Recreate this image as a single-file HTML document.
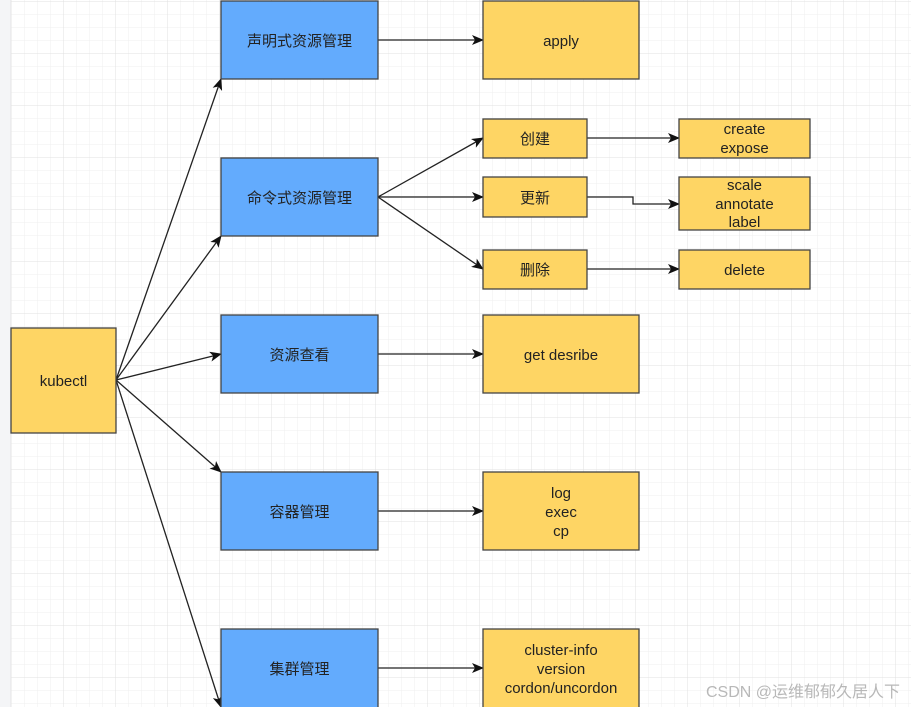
<!DOCTYPE html>
<html><head><meta charset="utf-8"><style>
html,body{margin:0;padding:0;background:#fff;}
svg{display:block;}
text{font-family:"Liberation Sans","Noto Sans CJK SC",sans-serif;font-size:15px;fill:#222;text-anchor:middle;}
</style></head><body>
<svg width="911" height="707" viewBox="0 0 911 707" xmlns="http://www.w3.org/2000/svg">
<defs>
<pattern id="minor" x="11" y="1" width="13" height="13" patternUnits="userSpaceOnUse">
<path d="M0 0H13M0 0V13" stroke="#efefef" stroke-width="1" fill="none"/>
</pattern>
<pattern id="major" x="11" y="1" width="52" height="52" patternUnits="userSpaceOnUse">
<path d="M0 0H52M0 0V52" stroke="#e0e0e0" stroke-width="1" fill="none"/>
</pattern>
<marker id="ar" markerWidth="12" markerHeight="10" refX="11" refY="5" orient="auto" markerUnits="userSpaceOnUse">
<path d="M0 0 L12 5 L0 10 L3 5 Z" fill="#111"/>
</marker>
</defs>
<rect width="911" height="707" fill="#fff"/>
<rect x="11" width="900" height="707" fill="url(#minor)"/>
<rect x="11" width="900" height="707" fill="url(#major)"/>
<rect x="0" y="0" width="11" height="707" fill="#f4f5f7"/>
<line x1="11" y1="0" x2="11" y2="707" stroke="#e4e4e4"/>

<g stroke="#222" stroke-width="1.3" fill="none" marker-end="url(#ar)">
<line x1="116" y1="380" x2="221" y2="79"/>
<line x1="116" y1="380" x2="221" y2="236"/>
<line x1="116" y1="380" x2="221" y2="354"/>
<line x1="116" y1="380" x2="221" y2="472"/>
<line x1="116" y1="380" x2="221" y2="707"/>
<line x1="378" y1="40" x2="483" y2="40"/>
<line x1="378" y1="197" x2="483" y2="138"/>
<line x1="378" y1="197" x2="483" y2="197"/>
<line x1="378" y1="197" x2="483" y2="269"/>
<line x1="378" y1="354" x2="483" y2="354"/>
<line x1="378" y1="511" x2="483" y2="511"/>
<line x1="378" y1="668" x2="483" y2="668"/>
<line x1="587" y1="138" x2="679" y2="138"/>
<polyline points="587,197 633,197 633,204 679,204"/>
<line x1="587" y1="269" x2="679" y2="269"/>
</g>

<g stroke="#444" stroke-width="1.3">
<rect x="11" y="328" width="105" height="105" fill="#fed564"/>
<rect x="221" y="1" width="157" height="78" fill="#63abfd"/>
<rect x="221" y="158" width="157" height="78" fill="#63abfd"/>
<rect x="221" y="315" width="157" height="78" fill="#63abfd"/>
<rect x="221" y="472" width="157" height="78" fill="#63abfd"/>
<rect x="221" y="629" width="157" height="80" fill="#63abfd"/>
<rect x="483" y="1" width="156" height="78" fill="#fed564"/>
<rect x="483" y="119" width="104" height="39" fill="#fed564"/>
<rect x="483" y="177" width="104" height="40" fill="#fed564"/>
<rect x="483" y="250" width="104" height="39" fill="#fed564"/>
<rect x="679" y="119" width="131" height="39" fill="#fed564"/>
<rect x="679" y="177" width="131" height="53" fill="#fed564"/>
<rect x="679" y="250" width="131" height="39" fill="#fed564"/>
<rect x="483" y="315" width="156" height="78" fill="#fed564"/>
<rect x="483" y="472" width="156" height="78" fill="#fed564"/>
<rect x="483" y="629" width="156" height="80" fill="#fed564"/>
</g>

<text x="63.5" y="386">kubectl</text>
<text x="299.5" y="46">声明式资源管理</text>
<text x="299.5" y="203">命令式资源管理</text>
<text x="299.5" y="360">资源查看</text>
<text x="299.5" y="517">容器管理</text>
<text x="299.5" y="674">集群管理</text>
<text x="561" y="46">apply</text>
<text x="535" y="144">创建</text>
<text x="535" y="203">更新</text>
<text x="535" y="275">删除</text>
<text x="744.5" y="134">create</text>
<text x="744.5" y="153">expose</text>
<text x="744.5" y="190">scale</text>
<text x="744.5" y="209">annotate</text>
<text x="744.5" y="227">label</text>
<text x="744.5" y="275">delete</text>
<text x="561" y="360">get desribe</text>
<text x="561" y="498">log</text>
<text x="561" y="517">exec</text>
<text x="561" y="536">cp</text>
<text x="561" y="655">cluster-info</text>
<text x="561" y="674">version</text>
<text x="561" y="693">cordon/uncordon</text>
<text x="803" y="697" style="font-size:16px;fill:#b8b8b8;">CSDN @运维郁郁久居人下</text>
</svg>
</body></html>
